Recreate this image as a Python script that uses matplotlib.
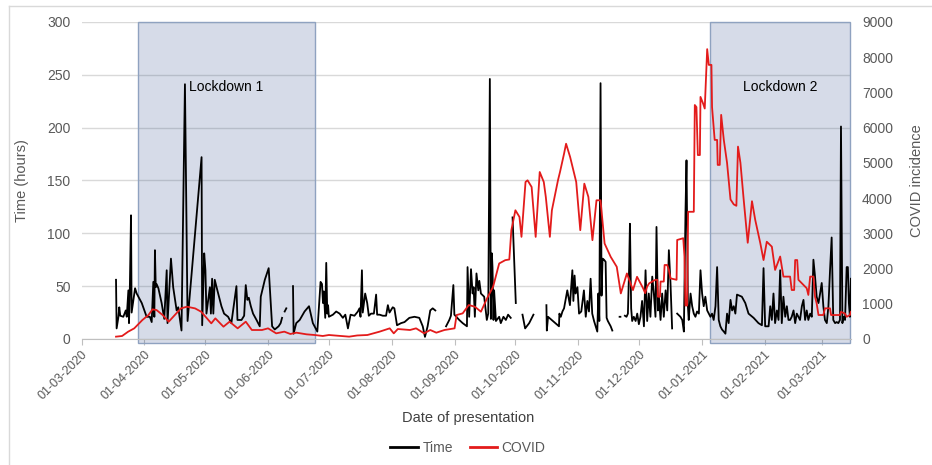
import matplotlib
matplotlib.use("Agg")
import matplotlib.pyplot as plt
import matplotlib.dates as mdates
from matplotlib.patches import Rectangle
from matplotlib.lines import Line2D
import numpy as np
import pandas as pd

nan = float("nan")

# jours comptés depuis le 01-03-2020
debut = pd.Timestamp("2020-03-01")

# serie Time (heures), nan = trou dans la courbe
time_days = [
    17.0, 17.3, 18.2, 18.6, 19.1, 20.6, 21.8, 22.3, 23.1, 23.4,
    23.8, 24.4, 24.7, 26.4, 27.2, 29.7, 32.1, 33.7, 34.6, 35.4,
    35.9, 36.2, 36.6, 37.0, 37.9, 39.5, 40.8, 42.0, 42.4, 44.1,
    45.2, 46.9, 47.7, 49.3, 51.0, 52.3, 59.2, 59.5, 60.5, 61.1,
    61.6, 63.3, 63.8, 64.4, 65.0, 65.7, 66.6, 68.2, 69.0, 70.3,
    72.3, 73.9, 76.4, 76.9, 78.9, 80.2, 81.0, 81.8, 82.5, 83.5,
    84.6, 86.3, 87.9, 88.4, 90.4, 92.3, 93.3, 94.0, 95.3, 97.2,
    98.2, 98.9, 99.5, 100.2, 101.0, 102.5, 104.3, 104.6, 105.9, 107.6,
    110.0, 112.2, 114.1, 116.3, 117.9, 118.6, 119.1, 119.5, 120.2, 120.7,
    121.2, 121.6, 122.0, 124.0, 125.6, 127.3, 128.9, 130.1, 131.4, 132.7,
    134.6, 136.3, 137.1, 137.6, 138.3, 138.7, 139.9, 140.9, 141.7, 142.8,
    144.2, 145.3, 145.8, 147.0, 148.6, 150.2, 151.1, 151.9, 153.5, 154.3,
    155.6, 157.6, 159.3, 161.7, 164.2, 166.6, 168.3, 169.4, 170.7, 172.0,
    173.2, 174.5, 177.0, 179.8, 181.4, 182.2, 183.4, 183.9, 186.3, 188.0,
    190.1, 190.4, 191.2, 192.1, 192.9, 193.4, 194.0, 194.8, 195.7, 196.2,
    197.0, 198.6, 199.9, 200.6, 201.4, 201.9, 202.4, 202.7, 203.2, 203.5,
    204.4, 206.0, 206.8, 208.1, 209.3, 210.4, 211.7, 212.2, 212.6, 214.2,
    215.5, 217.5, 218.8, 220.8, 222.9, 226.0, 229.3, 229.5, 230.1, 235.5,
    235.7, 236.4, 237.2, 238.0, 239.6, 240.9, 242.1, 242.6, 243.2, 243.7,
    244.6, 245.4, 246.5, 247.8, 248.7, 249.5, 250.3, 251.1, 251.9, 252.8,
    253.6, 254.4, 254.9, 255.4, 256.0, 256.5, 257.0, 257.7, 258.5, 259.0,
    259.6, 261.0, 261.8, 263.5, 265.4, 265.8, 267.0, 268.0, 268.8, 269.5,
    270.1, 270.5, 271.1, 271.6, 272.4, 273.3, 274.1, 274.9, 275.7, 276.5,
    277.4, 278.2, 279.0, 279.8, 280.6, 281.5, 282.3, 283.1, 283.6, 284.3,
    284.8, 285.6, 286.4, 287.2, 288.1, 288.9, 289.7, 290.5, 291.3, 292.5,
    293.8, 295.4, 296.3, 297.1, 297.9, 298.4, 299.1, 299.5, 300.4, 301.2,
    302.0, 302.8, 303.6, 304.5, 305.3, 306.1, 306.9, 307.7, 308.6, 309.4,
    310.2, 311.0, 311.8, 312.7, 313.5, 314.3, 315.1, 315.9, 316.8, 317.6,
    318.4, 319.2, 320.1, 320.9, 321.7, 322.5, 323.3, 325.7, 327.4, 329.0,
    331.5, 333.9, 335.6, 336.4, 337.2, 338.9, 339.7, 340.5, 341.3, 342.1,
    343.0, 343.8, 344.6, 345.4, 346.2, 347.1, 347.9, 348.7, 349.5, 350.3,
    351.2, 352.0, 352.8, 353.6, 354.4, 355.3, 356.1, 356.9, 357.7, 358.5,
    359.4, 360.2, 361.0, 361.8, 362.6, 363.5, 364.3, 365.1, 365.9, 366.7,
    367.6, 368.4, 369.2, 370.0, 370.8, 371.7, 372.5, 373.3, 374.1, 374.6,
    375.3, 375.8, 376.6, 377.4, 378.0, 378.5, 379.0, 379.5]
time_hours = [
    56, 10, 21, 30, 22, 21, 27, 21, 46, 15,
    46, 117, 25, 48, 43, 34, 21, 21, 16, 54,
    21, 84, 49, 52, 48, 34, 19, 65, 15, 76,
    49, 27, 30, 8, 241, 17, 172, 13, 81, 65,
    24, 49, 24, 57, 24, 56, 49, 37, 31, 24,
    21, 15, 50, 18, 18, 22, 51, 37, 39, 31,
    24, 18, 12, 40, 56, 67, 34, 12, 9, 12,
    15, 20, nan, 26, 29, nan, 50, 5, 15, 18,
    26, 31, 15, 7, 54, 52, 34, 45, 20, 72,
    24, 32, 21, 23, 26, 24, 20, 23, 10, 23,
    22, 26, 29, 21, 65, 25, 43, 34, 22, 24,
    24, 42, 23, 23, 22, 22, 32, 25, 30, 29,
    13, 15, 16, 20, 21, 20, 12, 2, 12, 27,
    29, 27, nan, 12, 18, 22, 51, 23, 18, 15,
    12, 68, 21, 66, 43, 49, 21, 62, 46, 55,
    43, 40, 18, 24, 246, 19, 81, 68, 18, 46,
    17, 21, 15, 21, 18, 23, 20, nan, 115, 34,
    nan, 23, 10, 15, 23, nan, 32, 8, 21, 12,
    24, 21, 26, 29, 46, 32, 65, 36, 60, 43,
    49, 24, 26, 46, 21, 36, 26, 57, 24, 17,
    12, 7, 43, 17, 242, 41, 76, 75, 73, 20,
    17, 12, 8, nan, 21, 21, nan, 22, 21, 24,
    68, 109, 29, 17, 21, 17, 24, 14, 21, 36,
    12, 65, 17, 43, 21, 59, 43, 21, 106, 27,
    40, 18, 43, 21, 46, 27, 84, 53, 10, nan,
    24, 21, 18, 7, 120, 169, 31, 18, 43, 31,
    24, 21, 26, 24, 65, 43, 31, 40, 27, 24,
    21, 24, 18, 31, 68, 18, 12, 9, 7, 5,
    24, 15, 37, 27, 31, 24, 42, 40, 34, 24,
    20, 15, 13, 67, 12, 12, 31, 18, 43, 15,
    27, 18, 65, 15, 40, 21, 31, 18, 18, 21,
    27, 15, 24, 21, 18, 31, 37, 18, 27, 18,
    24, 21, 75, 59, 40, 34, 43, 53, 31, 18,
    15, 31, 65, 96, 18, 15, 16, 15, 18, 201,
    15, 21, 18, 68, 68, 34, 21, 57]

# serie COVID (incidence)
covid_days = [
    17, 20, 23, 26, 30, 33, 35, 37, 40, 43,
    46, 49, 52, 56, 59, 64, 66, 70, 73, 77,
    81, 84, 89, 92, 96, 100, 103, 106, 111, 115,
    119, 122, 127, 132, 136, 141, 147, 152, 154, 156,
    162, 165, 169, 172, 175, 179, 184, 185, 188, 191,
    194, 197, 200, 203, 206, 209, 211, 212, 214, 216,
    217, 219, 220, 222, 224, 226, 228, 229, 231, 232,
    235, 236, 238, 239, 241, 244, 246, 248, 250, 252,
    254, 256, 258, 261, 264, 266, 269, 272, 274, 277,
    278, 279, 280, 281.5, 283, 284, 284.3, 285.3, 285.6, 287.2,
    287.6, 288.9, 289.7, 290.5, 293.5, 293.8, 296.8, 297.4, 297.9, 298.7,
    299.2, 302.0, 302.5, 303.3, 304.0, 305.0, 305.3, 306.6, 307.4, 308.6,
    309.4, 310.7, 311.0, 312.3, 313.5, 313.8, 314.8, 315.5, 316.8, 318.4,
    320.1, 321.7, 323.0, 323.8, 325.0, 326.6, 328.6, 330.7, 332.3, 334.8,
    336.4, 338.0, 340.5, 342.1, 344.6, 346.2, 349.5, 350.3, 351.5, 352.0,
    353.0, 353.6, 355.3, 357.7, 358.5, 359.4, 361.0, 361.8, 362.6, 363.5,
    365.9, 366.7, 369.2, 369.7, 374.1, 374.6, 376.6, 377.4, 379.0, 379.5]
covid_vals = [
    66, 85, 208, 302, 538, 680, 840, 821, 680, 491,
    680, 868, 916, 868, 774, 444, 585, 349, 491, 302,
    491, 255, 255, 302, 160, 208, 142, 179, 132, 113,
    85, 113, 90, 66, 100, 113, 208, 302, 160, 283,
    255, 302, 160, 255, 179, 255, 302, 680, 727, 963,
    916, 774, 1152, 1482, 2143, 2237, 2256, 3087, 3653, 3464,
    2898, 4456, 4503, 4314, 2898, 4739, 4456, 4031, 2898, 3653,
    4503, 4739, 5258, 5541, 5164, 4456, 3087, 4408, 4031, 2804,
    3936, 3936, 2709, 2332, 2048, 1293, 1860, 1388, 1765, 1440,
    1300, 1490, 1580, 1630, 1680, 1680, 1200, 1200, 1630, 1630,
    2100, 2100, 1960, 1720, 1680, 2810, 2860, 2340, 950, 950,
    3610, 3610, 6640, 6580, 5220, 5220, 6870, 6680, 6540, 8225,
    7779, 7779, 6580, 5650, 5650, 4940, 4940, 6360, 5650, 5000,
    3960, 3820, 3780, 5460, 5000, 3960, 2730, 3910, 3380, 2720,
    2240, 2760, 2620, 1960, 2340, 1770, 1770, 1390, 1390, 2240,
    2240, 1680, 1580, 1440, 1250, 1770, 1770, 1200, 1010, 680,
    680, 870, 870, 680, 680, 770, 720, 630, 680, 770]

# periodes de confinement
confinements = ["Lockdown 1", "Lockdown 2"]
conf_debut = ["2020-03-29", "2021-01-05"]
conf_fin = ["2020-06-24", "2021-03-15"]

mois_ticks = pd.date_range("2020-03-01", "2021-03-01", freq="MS")

t_x = debut + pd.to_timedelta(time_days, unit="D")
c_x = debut + pd.to_timedelta(covid_days, unit="D")

plt.rcParams["font.family"] = ["Liberation Sans", "DejaVu Sans"]
gris = "#595959"

fig = plt.figure(figsize=(9.32, 4.65), dpi=100)
ax = fig.add_axes([0.0875, 0.271, 0.8255, 0.682])
ax2 = ax.twinx()

# zones grisees des confinements
for nom, d1, d2 in zip(confinements, conf_debut, conf_fin):
    x1 = mdates.date2num(pd.Timestamp(d1))
    x2 = mdates.date2num(pd.Timestamp(d2))
    ax.add_patch(Rectangle((x1, -4), x2 - x1, 304, facecolor=(0.2, 0.31, 0.55, 0.2),
                           edgecolor="#8fa2c0", linewidth=1.0, zorder=1, clip_on=False))
    ax.text((x1 + x2) / 2, 238, nom, ha="center", va="center", fontsize=10,
            color="#000000", zorder=5)

ax.plot(t_x, time_hours, color="black", linewidth=1.3, zorder=3)
ax2.plot(c_x, covid_vals, color="#e31b1b", linewidth=1.3)

ax.set_ylim(0, 300)
ax2.set_ylim(0, 9000)
ax.set_yticks(np.arange(0, 301, 50))
ax2.set_yticks(np.arange(0, 9001, 1000))
ax.set_xlim(debut, debut + pd.Timedelta(days=379.5))

ax.set_xticks(mois_ticks)
ax.set_xticklabels([d.strftime("%d-%m-%Y") for d in mois_ticks], rotation=45,
                   ha="right", rotation_mode="anchor", fontsize=9, color=gris)

ax.grid(axis="y", color="#d9d9d9", linewidth=1.0)
ax.set_axisbelow(True)
for s in ["top", "left", "right"]:
    ax.spines[s].set_visible(False)
ax.spines["bottom"].set_color("#bfbfbf")
for s in ax2.spines.values():
    s.set_visible(False)

ax.tick_params(axis="y", length=0, labelsize=10, labelcolor=gris, pad=8)
ax2.tick_params(axis="y", length=0, labelsize=10, labelcolor=gris, pad=8)
ax.tick_params(axis="x", length=4, color="#bfbfbf", pad=3)

ax.set_ylabel("Time (hours)", fontsize=10.5, color=gris)
ax.yaxis.set_label_coords(-0.068, 0.5)
ax2.set_ylabel("COVID incidence", fontsize=10.5, color=gris)
ax2.yaxis.set_label_coords(1.077, 0.5)
ax.set_xlabel("Date of presentation", fontsize=10.5, color="#404040")
ax.xaxis.set_label_coords(0.502, -0.227)

# legende en bas
poignees = [Line2D([], [], color="black", linewidth=2), Line2D([], [], color="#e31b1b", linewidth=2)]
fig.legend(poignees, ["Time", "COVID"], loc="center", bbox_to_anchor=(0.502, 0.037), ncol=2,
           frameon=False, fontsize=10, handlelength=2.0, handletextpad=0.3, columnspacing=1.2,
           labelcolor=gris)

# cadre autour du graphique
fig.add_artist(Line2D([9 / 932, 9 / 932], [0, 1 - 6 / 465], color="#d9d9d9", linewidth=1))
fig.add_artist(Line2D([9 / 932, 1], [1 - 6 / 465, 1 - 6 / 465], color="#d9d9d9", linewidth=1))

fig.savefig("out.png", dpi=100)
